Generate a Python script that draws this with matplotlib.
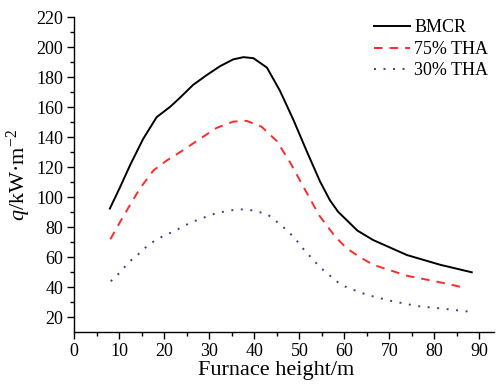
import matplotlib
matplotlib.use("Agg")
import matplotlib.pyplot as plt
from matplotlib.ticker import MultipleLocator

plt.rcParams['font.family'] = ['Liberation Serif', 'DejaVu Serif']
plt.rcParams['mathtext.fontset'] = 'custom'
plt.rcParams['mathtext.rm'] = 'Liberation Serif'
plt.rcParams['mathtext.it'] = 'Liberation Serif:italic'

# Heat flux along furnace height for three load cases
bmcr_h = [7.9, 10.2, 12.4, 15.3, 18.3, 21.3, 23.5, 26.4, 29.4, 32.4, 35.3, 37.6,
          39.8, 42.8, 45.7, 48.7, 51.6, 54.6, 56.8, 58.6, 62.9, 66.4, 73.9,
          81.3, 88.3]
bmcr_q = [92.5, 107, 121.5, 139, 153.5, 160.4, 166.5, 175, 181.5, 187.5, 192,
          193.5, 192.8, 186.5, 171, 151.5, 131, 110.5, 98, 90.4, 77.8, 71.5,
          61.5, 55, 50]

tha75_h = [8, 10.2, 12.2, 14.6, 17.6, 20.5, 24.2, 27.9, 31.6, 35.3, 38.3, 41.6,
           45, 48, 50.9, 54.4, 57.9, 60.5, 63.5, 66.4, 73.9, 81.3, 85.8]
tha75_q = [72, 83.7, 94, 106, 118, 124.5, 131.5, 139, 146.3, 150.5, 151, 147.1,
           137.5, 123, 107, 88, 74, 66, 60, 55, 47.7, 43.3, 40.3]

tha30_h = [8.1, 10.2, 12, 14.2, 16.2, 18.3, 20.4, 22.4, 24.4, 26.6, 28.7, 30.8,
           32.8, 34.8, 36.8, 39, 40.9, 43.1, 45, 47.2, 49, 50.9, 54.6, 58.7,
           60.5, 65, 70.2, 76.1, 82, 87.8]
tha30_q = [44, 50, 56.4, 62, 67.5, 72, 75, 77.7, 81, 84, 86.4, 88.7,
           90.2, 91.3, 92, 91.6, 90.4, 88.2, 83.7, 78.2, 72.7, 65.5, 53.3, 43,
           40, 35, 31, 27.5, 25.7, 23.7]

labels = ['BMCR', '75% THA', '30% THA']

fig = plt.figure(figsize=(4.97, 3.87), dpi=100)
ax = fig.add_axes([0.1495, 0.143, 0.845, 0.812])

ax.plot(bmcr_h, bmcr_q, color='black', lw=1.4, label=labels[0])
ax.plot(tha75_h, tha75_q, color='#ff2a2a', lw=1.4, linestyle=(0, (4.4, 3.6)),
        label=labels[1])
ax.plot(tha30_h, tha30_q, color='#3a3aa0', lw=1.4, linestyle=(0, (1, 3.9)),
        label=labels[2])

ax.set_xlim(0, 93.3)
ax.set_ylim(10.4, 220)
ax.xaxis.set_major_locator(MultipleLocator(10))
ax.xaxis.set_minor_locator(MultipleLocator(5))
ax.yaxis.set_minor_locator(MultipleLocator(10))
ax.set_yticks(range(20, 221, 20))

for side in ('top', 'right'):
    ax.spines[side].set_visible(False)
for side in ('left', 'bottom'):
    ax.spines[side].set_linewidth(1.0)

ax.tick_params(which='major', direction='out', length=5, width=1.0,
               labelsize=13, pad=3)
ax.tick_params(which='minor', direction='out', length=3, width=1.0)

ax.set_xlabel('Furnace height/m', fontsize=16)
ax.set_ylabel('$q$/kW·m$^{-2}$', fontsize=16)
ax.xaxis.set_label_coords(0.48, -0.092)
ax.yaxis.set_label_coords(-0.098, 0.5)

leg = ax.legend(loc='upper right', bbox_to_anchor=(1.012, 1.028), frameon=False,
                fontsize=13, handlelength=2.0, handletextpad=0.25,
                labelspacing=0.25, borderaxespad=0.2)

fig.savefig('out.png', dpi=100)
